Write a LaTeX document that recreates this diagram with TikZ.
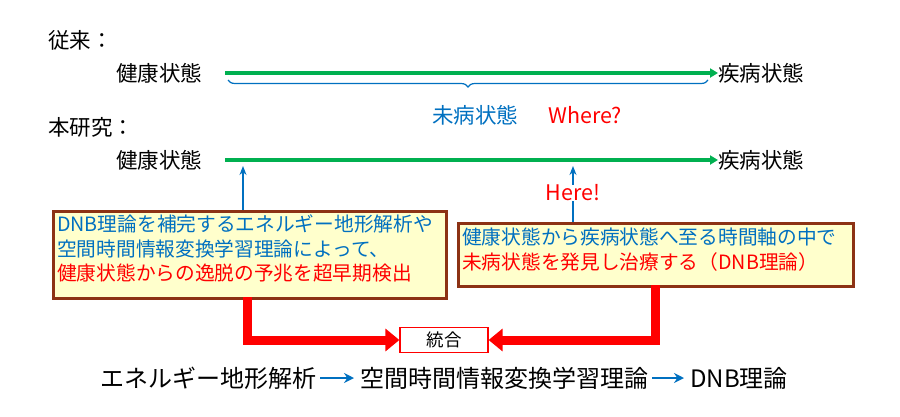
\documentclass[tikz,border=0pt]{standalone}
\usepackage{fontspec}
\setmainfont{Noto Sans CJK JP}
\usetikzlibrary{arrows.meta,decorations.pathreplacing}
\definecolor{tblue}{RGB}{0,112,192}
\definecolor{tgreen}{RGB}{0,176,80}
\definecolor{tbrown}{RGB}{140,50,20}
\definecolor{tyel}{RGB}{255,255,204}
\begin{document}
\begin{tikzpicture}[x=1pt,y=-1pt,
  lab/.style={font=\fontsize{21.5}{24}\selectfont,inner sep=0pt},
  boxtxt/.style={font=\fontsize{19.7}{24.5}\selectfont,align=left,inner sep=0pt},
  tbox/.style={draw=tbrown,line width=2.5pt,fill=tyel},
  gline/.style={tgreen,line width=3.5pt,-{Triangle[length=8pt,width=9pt]}},
  barrow/.style={tblue,line width=1.3pt,-{Stealth[length=9pt,width=7pt]}},
  rarrow/.style={red,line width=9pt,-{Triangle[length=14pt,width=22pt]}},
  btxt/.style={font=\fontsize{24}{26}\selectfont,inner sep=0pt}]
\useasboundingbox (0,0) rectangle (900,416);
\node[lab,anchor=west] (t1) at (48,40) {従来：};
\node[lab,anchor=west] (h1) at (116,73) {健康状態};
\node[lab,anchor=west] (d1) at (718,73) {疾病状態};
\draw[gline] (225,73) coordinate (g1s) -- (d1.west) coordinate (g1e);
\draw[tblue,line width=1.2pt,decorate,decoration={brace,mirror,amplitude=7pt}] (228,80) -- (708,80);
\node[lab,text=tblue] (mb) at (475,115) {未病状態};
\node[lab,text=red,anchor=west] (wh) at (548,115) {Where?};
\node[lab,anchor=west] (t2) at (48,127) {本研究：};
\node[lab,anchor=west] (h2) at (116,160) {健康状態};
\node[lab,anchor=west] (d2) at (718,160) {疾病状態};
\draw[gline] (225,160) -- (d2.west);
\node[tbox,minimum width=393pt,minimum height=87pt,anchor=north west] (lb) at (52,210) {};
\node[boxtxt,anchor=north west] (lt) at (57,215) {\textcolor{tblue}{DNB理論を補完するエネルギー地形解析や}\\\textcolor{tblue}{空間時間情報変換学習理論によって、}\\\textcolor{red}{健康状態からの逸脱の予兆を超早期検出}};
\node[tbox,minimum width=395pt,minimum height=63pt,anchor=north west] (rb) at (457,222) {};
\node[boxtxt,anchor=north west] (rt) at (462,228) {\textcolor{tblue}{健康状態から疾病状態へ至る時間軸の中で}\\\textcolor{red}{未病状態を発見し治療する（DNB理論）}};
\draw[barrow] (lb.north -| 243,0) -- (243,166);
\node[lab,text=red] (here) at (573,193) {Here!};
\draw[tblue,line width=1.3pt] (rb.north -| 573,0) -- (here.south);
\draw[barrow] (here.north) -- (573,166);
\node[draw=red,line width=1.2pt,minimum width=88pt,minimum height=25pt,font=\fontsize{17.5}{18}\selectfont] (tg) at (444,340) {統合};
\draw[rarrow] (247,297) |- (tg.west);
\draw[rarrow] (655,285) |- (tg.east);
\node[btxt,anchor=west] (b1) at (100,378) {エネルギー地形解析};
\node[btxt,anchor=west] (b2) at (360,378) {空間時間情報変換学習理論};
\node[btxt,anchor=west] (b3) at (690,378) {DNB理論};
\draw[tblue,line width=2.5pt,-{Stealth[length=10pt,width=10pt]}] (b1.east)++(4,0) -- ([xshift=-6pt]b2.west);
\draw[tblue,line width=2.5pt,-{Stealth[length=10pt,width=10pt]}] (b2.east)++(4,0) -- ([xshift=-6pt]b3.west);
\end{tikzpicture}
\end{document}
